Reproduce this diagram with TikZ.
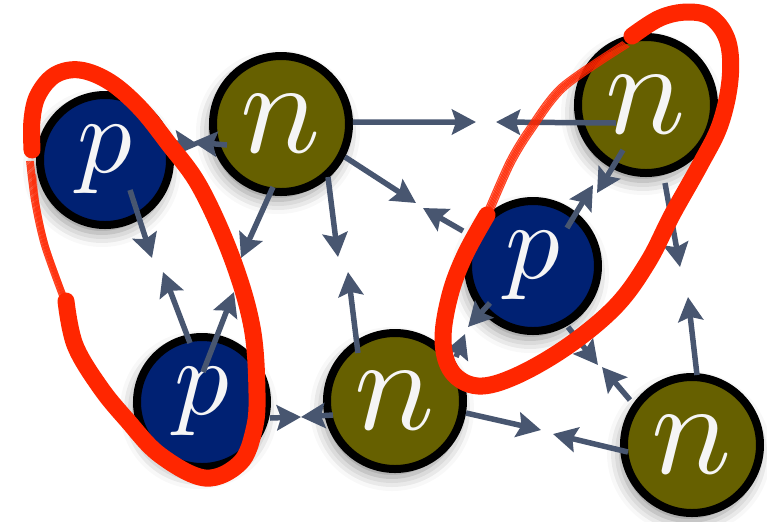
\documentclass[tikz,border=0pt]{standalone}
\usepackage{graphicx}
\usepackage{tikz}
\usetikzlibrary{arrows.meta,calc,shadows.blur}

\definecolor{pblue}{RGB}{0,33,115}
\definecolor{nolive}{RGB}{102,96,0}
\definecolor{pullgray}{RGB}{72,86,112}
\definecolor{ringred}{RGB}{255,38,0}

\newcommand{\bigsym}[2]{\scalebox{#1}{$#2$}}

\tikzset{
  nucleon/.style={circle,draw=black,line width=0.08cm,inner sep=0pt,text=white!96!black,
    blur shadow={shadow xshift=-0.03cm,shadow yshift=-0.08cm,shadow blur radius=0.14cm,shadow opacity=45}},
  proton/.style={nucleon,fill=pblue,minimum size=1.30cm},
  neutron/.style={nucleon,fill=nolive,minimum size=1.36cm},
  pull/.style={->,pullgray,line width=0.055cm},
  ring/.style={ringred,line width=0.17cm,line cap=round,line join=round},
  strand/.style={ringred,line width=0.012cm,opacity=0.85},
  core/.style={ringred,line width=0.05cm,opacity=0.5,line cap=round}
}

\begin{document}
\begin{tikzpicture}[>={Stealth[length=0.24cm,width=0.25cm,inset=0.04cm]}]
  \useasboundingbox (0,0) rectangle (7.67,5.21);
  % nucleons
  \node[proton]  (p1) at (1.05,3.61) {\bigsym{3.1}{p}};
  \node[neutron] (n1) at (2.81,3.97) {\bigsym{3.8}{n}};
  \node[neutron] (n2) at (6.46,4.16) {\bigsym{3.8}{n}};
  \node[proton]  (p2) at (5.33,2.55) {\bigsym{3.1}{p}};
  \node[proton]  (p3) at (2.02,1.19) {\bigsym{3.1}{p}};
  \node[neutron] (n3) at (3.95,1.20) {\bigsym{3.8}{n}};
  \node[neutron] (n4) at (6.92,0.76) {\bigsym{3.8}{n}};

  % pulls, two for each pair
  \draw[pull] ($(n1)+(-0.54,-0.21)$) -- ($(p1)+(0.88,0.18)$);
  \draw[pull] ($(p1)+(0.70,0.17)$) -- ($(n1)+(-0.82,-0.21)$);
  \draw[pull] ($(p1)+(0.25,-0.30)$) -- ($(p3)+(-0.50,1.44)$);
  \draw[pull] ($(p3)+(-0.12,0.59)$) -- ($(p1)+(0.58,-1.12)$);
  \draw[pull] ($(n1)+(-0.08,-0.63)$) -- ($(p3)+(0.39,1.44)$);
  \draw[pull] ($(p3)+(0.01,0.30)$) -- ($(n1)+(-0.47,-1.68)$);
  \draw[pull] ($(n1)+(0.47,-0.53)$) -- ($(n3)+(-0.57,1.44)$);
  \draw[pull] ($(n3)+(-0.37,0.48)$) -- ($(n1)+(0.67,-1.48)$);
  \draw[pull] ($(n1)+(0.72,0.02)$) -- ($(n2)+(-1.70,-0.17)$);
  \draw[pull] ($(n2)+(-0.30,-0.18)$) -- ($(n1)+(2.15,0.02)$);
  \draw[pull] ($(n1)+(0.64,-0.33)$) -- ($(p2)+(-1.17,0.63)$);
  \draw[pull] ($(p2)+(-0.70,0.35)$) -- ($(n1)+(1.42,-0.84)$);
  \draw[pull] ($(n2)+(-0.23,-0.45)$) -- ($(p2)+(0.64,0.73)$);
  \draw[pull] ($(p2)+(0.34,0.38)$) -- ($(n2)+(-0.53,-0.80)$);
  \draw[pull] ($(n2)+(0.19,-0.78)$) -- ($(n4)+(-0.12,1.78)$);
  \draw[pull] ($(n4)+(0.05,0.70)$) -- ($(n2)+(0.42,-1.92)$);
  \draw[pull] ($(p2)+(0.35,-0.61)$) -- ($(n4)+(-0.94,0.80)$);
  \draw[pull] ($(n4)+(-0.62,0.45)$) -- ($(p2)+(0.69,-1.01)$);
  \draw[pull] ($(n4)+(-0.64,-0.07)$) -- ($(n3)+(1.58,-0.33)$);
  \draw[pull] ($(n3)+(0.71,-0.12)$) -- ($(n4)+(-1.51,0.15)$);
  \draw[pull] ($(p2)+(-0.43,-0.37)$) -- ($(n3)+(0.73,0.74)$);
  \draw[pull] ($(n3)+(0.61,0.44)$) -- ($(p2)+(-0.68,-0.68)$);
  \draw[pull] ($(n3)+(-0.62,-0.14)$) -- ($(p3)+(0.99,-0.15)$);
  \draw[pull] ($(p3)+(0.68,-0.16)$) -- ($(n3)+(-0.94,-0.16)$);

  % hand drawn rings
  \draw[ring] plot[smooth,tension=0.6] coordinates {(0.66,2.20) (0.75,1.76) (1.00,1.34) (1.27,1.01)
    (1.60,0.66) (2.05,0.43) (2.40,0.58) (2.54,0.91) (2.57,1.28) (2.52,1.94) (2.32,2.63) (2.00,3.34)
    (1.68,3.78) (1.40,4.13) (1.10,4.39) (0.80,4.51) (0.55,4.46) (0.38,4.26) (0.32,4.01) (0.32,3.71)};
  \draw[core] plot[smooth] coordinates {(0.34,3.45) (0.38,3.10) (0.47,2.72) (0.66,2.20)};
  \foreach \d in {-3,...,3}
    \draw[strand,xshift=\d*0.011cm] plot[smooth] coordinates {(0.30,3.60) (0.35,3.20) (0.45,2.75) (0.64,2.22)};
  \draw[ring] plot[smooth,tension=0.6] coordinates {(4.87,3.06) (4.65,2.66) (4.50,2.26) (4.43,1.81)
    (4.52,1.49) (4.78,1.35) (5.16,1.45) (5.68,1.75) (6.16,2.15) (6.48,2.59) (6.72,3.06) (7.00,3.56)
    (7.20,3.96) (7.30,4.41) (7.28,4.79) (7.12,5.03) (6.88,5.09) (6.60,5.03) (6.32,4.85)};
  \draw[core] plot[smooth] coordinates {(6.10,4.67) (5.63,4.34) (5.30,3.91) (5.10,3.58) (4.88,3.08)};
  \foreach \d in {-3,...,3}
    \draw[strand,xshift=\d*0.011cm,yshift=-\d*0.008cm] plot[smooth] coordinates {(6.26,4.77) (5.63,4.34) (5.30,3.91) (5.10,3.58) (4.88,3.08)};
\end{tikzpicture}
\end{document}
